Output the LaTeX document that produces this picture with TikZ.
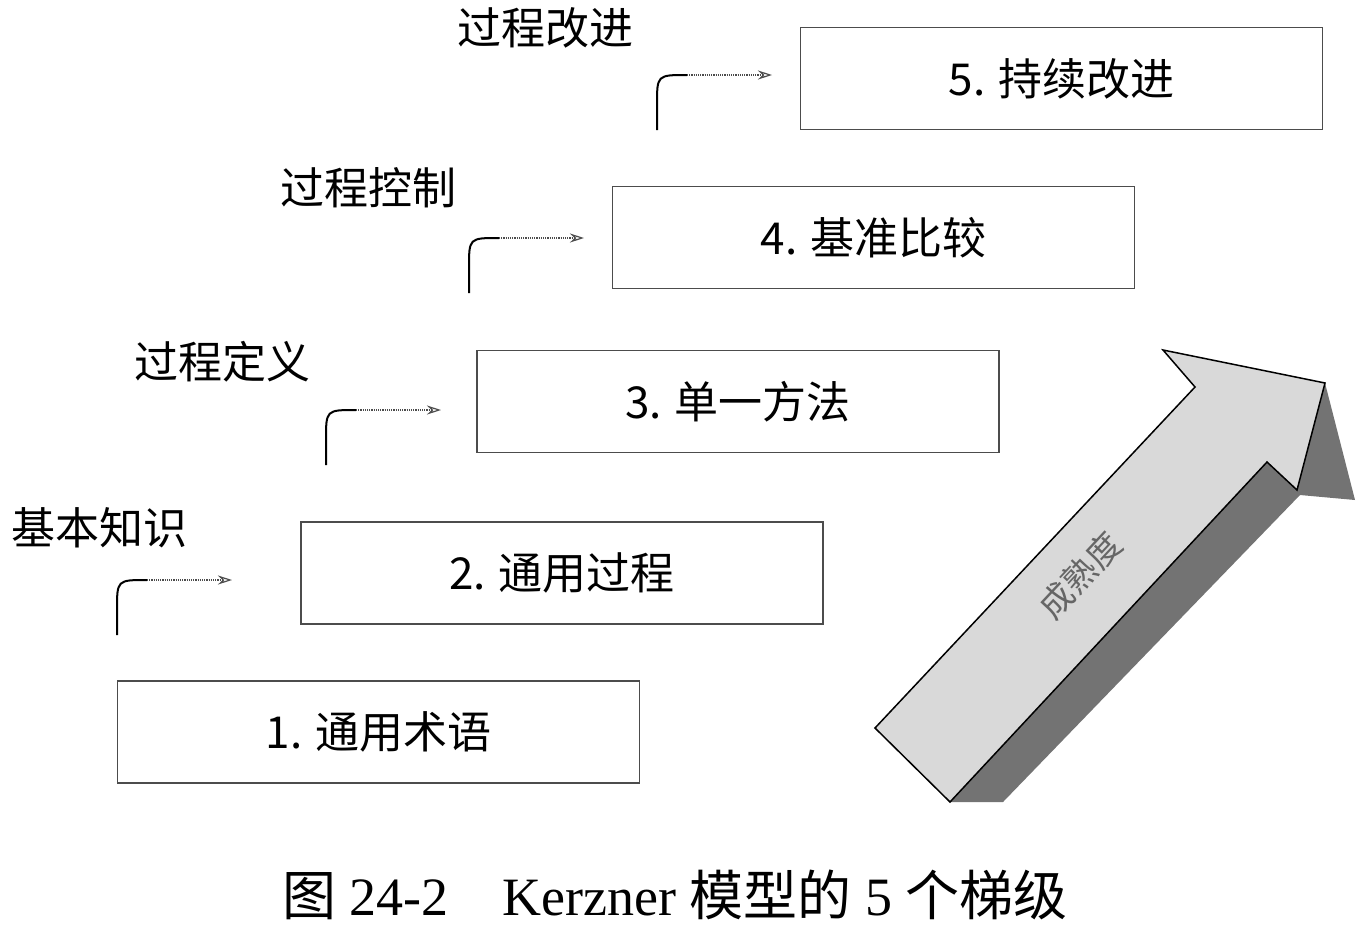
\documentclass[tikz,border=0pt]{standalone}
\usepackage{fontspec}
\setmainfont{Liberation Serif}
\newfontfamily\cjk{Noto Sans CJK SC}
\usetikzlibrary{arrows.meta}
\begin{document}
\begin{tikzpicture}[x=1pt,y=-1pt,
  stepbox/.style={draw=black!70,line width=1.3pt,minimum width=522pt,minimum height=102pt,inner sep=0pt,font=\fontsize{44}{48}\selectfont\cjk},
  lvl/.style={font=\fontsize{44}{48}\selectfont\cjk,anchor=center},
  curv/.style={line width=2pt,black},
  dots/.style={densely dotted,line width=1.2pt,black!70,-{Stealth[length=14pt,width=9pt,open]}}]
\useasboundingbox (0,0) rectangle (1362,935);
\node[stepbox] (b1) at (378.5,732) {1. 通用术语};
\node[stepbox] (b2) at (562,573) {2. 通用过程};
\node[stepbox] (b3) at (738,401.5) {3. 单一方法};
\node[stepbox] (b4) at (873.5,237.5) {4. 基准比较};
\node[stepbox] (b5) at (1061.5,78.5) {5. 持续改进};
\node[lvl] (l1) at (100,528) {基本知识};
\node[lvl] (l2) at (222,362) {过程定义};
\node[lvl] (l3) at (368,188) {过程控制};
\node[lvl] (l4) at (545,28) {过程改进};
\foreach \i/\x/\y in {1/117/580,2/326/410,3/469/238,4/657/75}{
  \coordinate (s\i) at (\x,\y+55);
  \coordinate (m\i) at (\x+30,\y);
  \coordinate (e\i) at (\x+115,\y);
  \draw[curv] (s\i) -- ++(0,-25) .. controls (\x,\y) .. (m\i);
  \draw[dots] (m\i) -- (e\i);
}
% maturity arrow
\fill[black!55] (950,802) -- (1003,802) -- (1300,495) -- (1355,500) -- (1325,383) -- (1297,490) -- (1267,462) -- cycle;
\filldraw[fill=black!15,draw=black,line width=1.5pt] (875,728) -- (1195,387) -- (1163,350) -- (1325,383) -- (1297,490) -- (1267,462) -- (950,802) -- cycle;
\node[rotate=47,font=\fontsize{34}{38}\selectfont\cjk,text=black!60] (mat) at (1080,575) {成熟度};
\node[font=\fontsize{54}{58}\selectfont] (cap) at (675,895) {{\cjk 图} 24-2\quad Kerzner {\cjk 模型的} 5 {\cjk 个梯级}};
\end{tikzpicture}
\end{document}
